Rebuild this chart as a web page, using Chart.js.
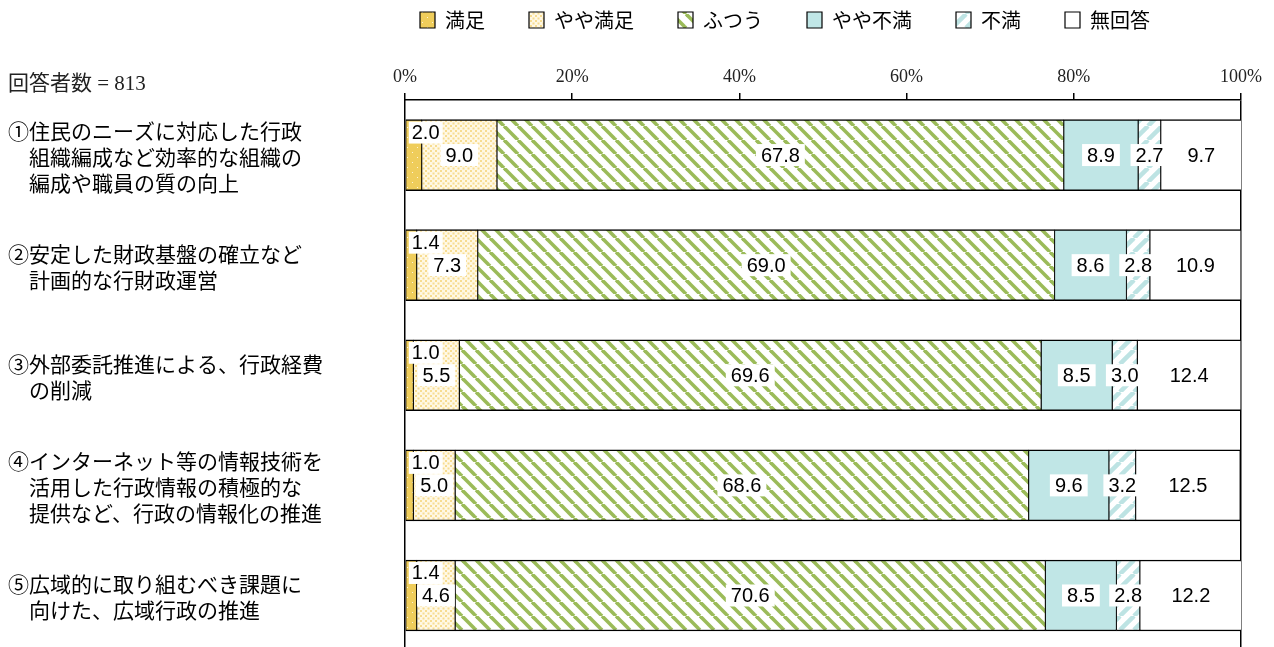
<!DOCTYPE html>
<html>
<head>
<meta charset="utf-8">
<script src="https://cdn.jsdelivr.net/npm/chart.js@4/dist/chart.umd.min.js"></script>
<style>
  html, body { margin: 0; padding: 0; background: #fff; overflow: hidden; }
  #wrap { width: 1274px; height: 647px; }
</style>
</head>
<body>
<div id="wrap"><canvas id="myChart" width="1274" height="647"></canvas></div>
<script>
// categories (one array of lines per item)
var categories = [
    ['①住民のニーズに対応した行政', '　組織編成など効率的な組織の', '　編成や職員の質の向上'],
    ['②安定した財政基盤の確立など', '　計画的な行財政運営'],
    ['③外部委託推進による、行政経費', '　の削減'],
    ['④インターネット等の情報技術を', '　活用した行政情報の積極的な', '　提供など、行政の情報化の推進'],
    ['⑤広域的に取り組むべき課題に', '　向けた、広域行政の推進']
];
var seriesNames = ['満足', 'やや満足', 'ふつう', 'やや不満', '不満', '無回答'];
var manzoku     = [2.0, 1.4, 1.0, 1.0, 1.4];
var yayaManzoku = [9.0, 7.3, 5.5, 5.0, 4.6];
var futsuu      = [67.8, 69.0, 69.6, 68.6, 70.6];
var yayaFuman   = [8.9, 8.6, 8.5, 9.6, 8.5];
var fuman       = [2.7, 2.8, 3.0, 3.2, 2.8];
var mukaitou    = [9.7, 10.9, 12.4, 12.5, 12.2];
var xTicks = [0, 20, 40, 60, 80, 100];
var nLabel = '回答者数 = 813';

var canvas = document.getElementById('myChart');
var context = canvas.getContext('2d');

function makePattern(size, draw){
    var c = document.createElement('canvas');
    c.width = size; c.height = size;
    var g = c.getContext('2d');
    draw(g, size);
    return context.createPattern(c, 'repeat');
}

var fills = [
    makePattern(10, function(g, s){
        g.fillStyle = '#EFCD5B'; g.fillRect(0, 0, s, s);
        g.fillStyle = '#FFF6D6';
        g.fillRect(2, 2, 1, 1); g.fillRect(7, 7, 1, 1);
    }),
    makePattern(5, function(g, s){
        g.fillStyle = '#FFF8E4'; g.fillRect(0, 0, s, s);
        g.fillStyle = '#F7DC90';
        g.fillRect(0, 0, 2, 2); g.fillRect(2.5, 2.5, 2, 2);
    }),
    makePattern(14, function(g, s){
        g.fillStyle = '#fff'; g.fillRect(0, 0, s, s);
        g.strokeStyle = '#9BBB59'; g.lineWidth = 3.6;
        [-s, 0, s].forEach(function(k){
            g.beginPath(); g.moveTo(k, 0); g.lineTo(k + s, s); g.stroke();
        });
    }),
    '#C0E6E6',
    makePattern(14, function(g, s){
        g.fillStyle = '#fff'; g.fillRect(0, 0, s, s);
        g.strokeStyle = '#BDE3E3'; g.lineWidth = 4.5;
        [-s, 0, s].forEach(function(k){
            g.beginPath(); g.moveTo(k, s); g.lineTo(k + s, 0); g.stroke();
        });
    }),
    '#FFFFFF'
];

var seriesData = [manzoku, yayaManzoku, futsuu, yayaFuman, fuman, mukaitou];

var data = {
    labels: categories.map(function(c, i){ return i; }),
    datasets: seriesData.map(function(arr, i){
        return {
            label: seriesNames[i],
            data: arr,
            backgroundColor: fills[i],
            borderColor: '#000',
            borderWidth: {top: 1.5, bottom: 1.5, left: 0.9, right: 0.9},
            borderSkipped: false,
            barThickness: 71
        };
    })
};

var valueLabels = {
    id: 'valueLabels',
    afterDatasetsDraw: function(chart){
        var ctx = chart.ctx;
        ctx.save();
        ctx.font = '20px "Liberation Sans", Arial, sans-serif';
        ctx.textAlign = 'center';
        ctx.textBaseline = 'middle';
        chart.data.datasets.forEach(function(ds, di){
            var meta = chart.getDatasetMeta(di);
            meta.data.forEach(function(bar, i){
                var txt = ds.data[i].toFixed(1);
                var w = ctx.measureText(txt).width;
                var left = Math.min(bar.x, bar.base), right = Math.max(bar.x, bar.base);
                var cx, cy, pad;
                if (di === 0) {
                    // small segment: label sits at the top-left corner of the bar
                    pad = 3;
                    cx = left + 3 + pad + w / 2;
                    cy = bar.y - bar.height / 2 + 13;
                } else {
                    pad = 5;
                    cx = (left + right) / 2;
                    cy = bar.y;
                }
                ctx.fillStyle = '#fff';
                ctx.fillRect(cx - w / 2 - pad, cy - 11, w + pad * 2, 22);
                ctx.fillStyle = '#000';
                ctx.fillText(txt, cx, cy + 1);
            });
        });
        ctx.restore();
    }
};

var extras = {
    id: 'extras',
    afterLayout: function(chart){
        // move the legend row to where it sits in the original
        var lg = chart.legend;
        if (lg) {
            var pad = lg.options.labels.padding;
            lg.left = 420 - pad;
            lg.right = 1274;
            lg.top = 10 - pad;
            lg.bottom = 40;
        }
    },
    afterDraw: function(chart){
        var ctx = chart.ctx;
        ctx.save();
        ctx.font = '21px "Liberation Serif", "Noto Sans CJK JP", serif';
        ctx.fillStyle = '#222';
        ctx.textAlign = 'left';
        ctx.textBaseline = 'middle';
        ctx.fillText(nLabel, 8, 84);
        ctx.restore();
    }
};

var chart = new Chart(context, {
    type: 'bar',
    data: data,
    options: {
        indexAxis: 'y',
        responsive: false,
        animation: false,
        events: [],
        layout: { padding: { left: 8, right: 33, top: 0, bottom: 0 } },
        plugins: {
            tooltip: { enabled: false },
            legend: {
                position: 'top',
                align: 'start',
                maxHeight: 40,
                labels: {
                    boxWidth: 15,
                    boxHeight: 16,
                    padding: 44,
                    color: '#000',
                    font: { family: '"Noto Sans CJK JP", sans-serif', size: 20 }
                }
            }
        },
        scales: {
            x: {
                position: 'top',
                stacked: true,
                min: 0,
                max: 100,
                afterFit: function(s){ s.height = 60; },
                afterBuildTicks: function(s){
                    s.ticks = xTicks.map(function(v){ return {value: v}; });
                },
                ticks: {
                    padding: 5,
                    color: '#222',
                    font: { family: '"Liberation Serif", serif', size: 18 },
                    callback: function(v){ return v + '%'; }
                },
                grid: {
                    drawOnChartArea: true,
                    drawTicks: true,
                    tickLength: 7,
                    tickColor: '#000',
                    lineWidth: 1.5,
                    color: function(c){ return (c.tick && c.tick.value === 100) ? '#000' : 'rgba(0,0,0,0)'; }
                },
                border: { display: true, color: '#000', width: 1.5 }
            },
            y: {
                type: 'linear',
                stacked: true,
                reverse: true,
                offset: false,
                grace: 0,
                min: -0.5,
                max: 4.468,
                afterFit: function(s){
                    s.width = 397;
                    s.paddingTop = 0;
                    s.paddingBottom = 0;
                },
                afterBuildTicks: function(s){
                    s.ticks = categories.map(function(c, i){ return {value: i}; });
                },
                ticks: {
                    autoSkip: false,
                    crossAlign: 'far',
                    labelOffset: 2,
                    color: '#000',
                    font: { family: '"Noto Sans CJK JP", sans-serif', size: 21, lineHeight: '26px' },
                    callback: function(v){ return categories[v]; }
                },
                grid: { display: false, drawTicks: false },
                border: { display: true, color: '#000', width: 1.5 }
            }
        }
    },
    plugins: [valueLabels, extras]
});
</script>
</body>
</html>
